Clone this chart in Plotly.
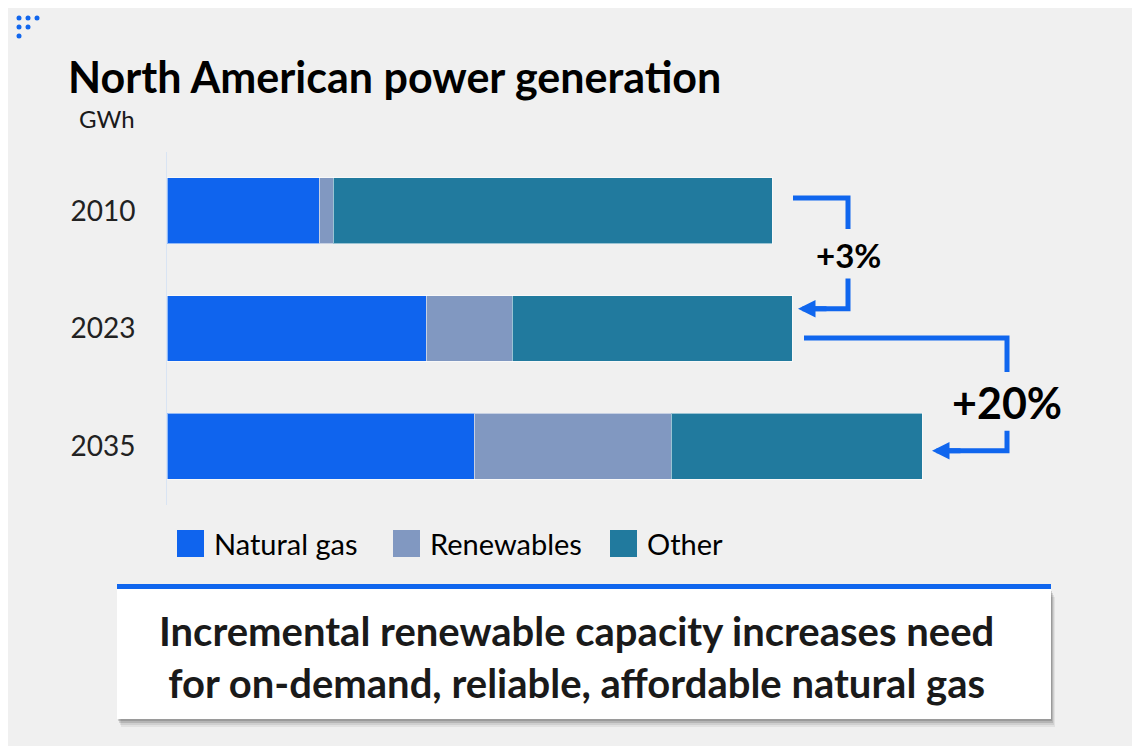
import plotly.graph_objects as go

# North American power generation, GWh
years = ["2010", "2023", "2035"]
natural_gas = [1216, 2072, 2456]
renewables = [112, 688, 1576]
other = [3512, 2240, 2008]
series_names = ["Natural gas", "Renewables", "Other"]
growth_labels = ["+3%", "+20%"]
takeaway = "Incremental renewable capacity increases need<br>for on-demand, reliable, affordable natural gas"

colors = ["#0F64EE", "#8198C1", "#217A9E"]
blue = "#1066EE"
font = "Lato"

# page offset (browser body margin) and figure size
OX, OY = 8, 8
W, H = 1127, 738
# plot area in screen pixels
PL, PT, PR, PB = 167, 152, 1067, 505
PW, PH = PR - PL, PB - PT
XMAX = 7200
PX = XMAX / PW  # data units per pixel


def px(x):
    return (x - PL) / PW


def py(y):
    return 1 - (y - PT) / PH


y_pos = list(range(len(years)))
series = [natural_gas, renewables, other]
totals = [sum(v) for v in zip(*series)]

fig = go.Figure()
for name, vals, c in zip(series_names, series, colors):
    fig.add_trace(
        go.Bar(
            y=y_pos,
            x=vals,
            name=name,
            orientation="h",
            marker=dict(color=c, line=dict(color="rgba(255,255,255,0.55)", width=1)),
            showlegend=False,
        )
    )

shapes = []
annotations = []

# growth arrows: (from bar i to bar i+1), pixel offsets and category offsets
arrow_style = [
    dict(start_dx=21, elbow_dx=56, tip_dx=6, top=-0.11, drop=0.155, text=0.375,
         resume=0.575, bottom=0.833, size=33),
    dict(start_dx=12, elbow_dx=85, tip_dx=10, top=0.08, drop=0.37, text=0.625,
         resume=0.87, bottom=1.04, size=43),
]
for i, (label, st) in enumerate(zip(growth_labels, arrow_style)):
    x_start = totals[i] + st["start_dx"] * PX
    x_elbow = max(totals[i], totals[i + 1]) + st["elbow_dx"] * PX
    x_tip = totals[i + 1] + st["tip_dx"] * PX
    y_top = i + st["top"]
    y_bot = i + st["bottom"]
    shapes.append(dict(
        type="path", xref="x", yref="y",
        path=f"M{x_start},{y_top} L{x_elbow},{y_top} L{x_elbow},{i + st['drop']}",
        line=dict(color=blue, width=5),
    ))
    shapes.append(dict(
        type="path", xref="x", yref="y",
        path=f"M{x_elbow},{i + st['resume']} L{x_elbow},{y_bot} L{x_tip + 12 * PX},{y_bot}",
        line=dict(color=blue, width=5),
    ))
    annotations.append(dict(
        x=x_tip, y=y_bot, xref="x", yref="y",
        ax=x_tip + 30 * PX, ay=y_bot, axref="x", ayref="y",
        text="", showarrow=True, arrowhead=2, arrowsize=0.7, arrowwidth=5,
        arrowcolor=blue, standoff=0, startstandoff=0,
    ))
    annotations.append(dict(
        x=x_elbow, y=i + st["text"], xref="x", yref="y",
        text=f"<b>{label}</b>", showarrow=False,
        font=dict(family=font, size=st["size"], color="#000000"),
    ))

# title and unit
annotations.append(dict(
    x=px(66), y=py(77), xref="paper", yref="paper", xanchor="left", yanchor="middle",
    text="<b>North American power generation</b>", showarrow=False,
    font=dict(family=font, size=43, color="#000000"),
))
annotations.append(dict(
    x=px(77), y=py(118), xref="paper", yref="paper", xanchor="left", yanchor="middle",
    text="GWh", showarrow=False, font=dict(family=font, size=24, color="#1a1a1a"),
))

# legend
legend_x = [177, 393, 610]
for name, c, lx in zip(series_names, colors, legend_x):
    shapes.append(dict(
        type="rect", xref="paper", yref="paper",
        x0=px(lx), x1=px(lx + 27), y0=py(557), y1=py(530),
        fillcolor=c, line=dict(width=0),
    ))
    annotations.append(dict(
        x=px(lx + 35), y=py(543), xref="paper", yref="paper", xanchor="left",
        yanchor="middle", text=name, showarrow=False,
        font=dict(family=font, size=29, color="#000000"),
    ))

# takeaway box with shadow and blue stripe
for off, op in [(8, 0.06), (6, 0.08), (4, 0.12), (2, 0.15)]:
    shapes.append(dict(
        type="rect", xref="paper", yref="paper", layer="above",
        x0=px(117 + off / 2), x1=px(1051 + off / 2), y0=py(719 + off), y1=py(589 + off),
        fillcolor=f"rgba(0,0,0,{op})", line=dict(width=0),
    ))
shapes.append(dict(
    type="rect", xref="paper", yref="paper", layer="above",
    x0=px(117), x1=px(1051), y0=py(719), y1=py(589),
    fillcolor="#FFFFFF", line=dict(width=0),
))
shapes.append(dict(
    type="rect", xref="paper", yref="paper", layer="above",
    x0=px(117), x1=px(1051), y0=py(589), y1=py(584),
    fillcolor=blue, line=dict(width=0),
))
annotations.append(dict(
    x=px(576), y=py(657), xref="paper", yref="paper", xanchor="center", yanchor="middle",
    text=f"<b>{takeaway}</b>", showarrow=False,
    font=dict(family=font, size=40, color="#1a1a1a"),
))

# decorative dots, top left
for dx, dy in [(19, 18), (28, 18), (37, 18), (19, 27), (28, 27), (19, 36)]:
    shapes.append(dict(
        type="circle", xref="paper", yref="paper",
        x0=px(dx - 2.5), x1=px(dx + 2.5), y0=py(dy + 2.5), y1=py(dy - 2.5),
        fillcolor=blue, line=dict(width=0),
    ))

fig.update_layout(
    width=W,
    height=H,
    margin=dict(l=PL - OX, r=OX + W - PR, t=PT - OY, b=OY + H - PB),
    barmode="stack",
    bargap=0.44,
    paper_bgcolor="#F0F0F0",
    plot_bgcolor="#F0F0F0",
    font=dict(family=font, color="#222222"),
    showlegend=False,
    xaxis=dict(range=[0, XMAX], visible=False),
    yaxis=dict(
        tickvals=y_pos,
        ticktext=years,
        range=[len(years) - 0.5, -0.5],
        showgrid=False,
        zeroline=False,
        showline=True,
        linecolor="#D9E4F3",
        linewidth=1,
        ticks="",
        ticklabelstandoff=25,
        tickfont=dict(family=font, size=28, color="#222222"),
    ),
    shapes=shapes,
    annotations=annotations,
)

fig.write_html("out.html")
